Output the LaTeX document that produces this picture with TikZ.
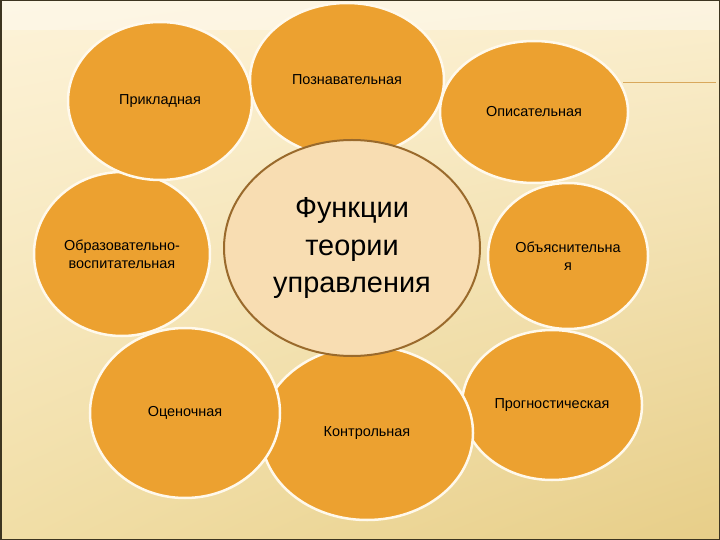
\documentclass[tikz,border=0pt]{standalone}
\usepackage{fontspec}
\setmainfont{Liberation Sans}
\usepackage{xcolor}
\usepackage{tikz}
\usetikzlibrary{shapes.geometric,shadings}

\definecolor{petalfill}{HTML}{ECA130}
\definecolor{petalrim}{HTML}{FFF9EC}
\definecolor{corefill}{HTML}{F8DDB2}
\definecolor{corerim}{HTML}{9A6A2C}
\definecolor{bgtopl}{HTML}{FDF3D9}
\definecolor{bgtopr}{HTML}{FBEFCF}
\definecolor{bgbotl}{HTML}{F1DEA6}
\definecolor{bgbotr}{HTML}{E7CE88}
\definecolor{framecol}{HTML}{3D3520}
\definecolor{accentline}{HTML}{D9A85C}

\begin{document}
\begin{tikzpicture}[x=1bp,y=-1bp,every node/.style={align=center},
    petal/.style={ellipse,fill=petalfill,draw=petalrim,line width=2.5bp,inner sep=0pt,
        font=\fontsize{14.5}{18}\selectfont},
    core/.style={ellipse,fill=corefill,draw=corerim,line width=2bp,inner sep=0pt,
        font=\fontsize{29}{38}\selectfont}]
    \useasboundingbox (0,0) rectangle (720,540);
    % background of the slide
    \shade[upper left=bgtopl,upper right=bgtopr,lower left=bgbotl,lower right=bgbotr] (0,0) rectangle (720,540);
    \fill[white,opacity=0.35] (0,0) rectangle (720,30);
    \coordinate (lineA) at (623,83);
    \coordinate (lineB) at (716,83);
    \draw[accentline,line width=1bp] (lineA) -- (lineB);
    \draw[framecol,line width=1.5bp] (0.75,0.75) rectangle (719.25,539.25);
    % outer functions
    \node[petal,minimum width=176bp,minimum height=164bp] (obraz) at (122,254) {Образовательно-\\воспитательная};
    \node[petal,minimum width=184bp,minimum height=158bp] (prikl) at (160,101) {Прикладная};
    \node[petal,minimum width=194bp,minimum height=154bp] (poznav) at (347,80) {Познавательная};
    \node[petal,minimum width=188bp,minimum height=142bp] (opis) at (534,112) {Описательная};
    \node[petal,minimum width=160bp,minimum height=146bp] (obyasn) at (568,256) {Объяснительна\\я};
    \node[petal,minimum width=180bp,minimum height=150bp] (prognoz) at (552,405) {Прогностическая};
    \node[petal,minimum width=212bp,minimum height=174bp] (kontr) at (367,433) {Контрольная};
    \node[petal,minimum width=190bp,minimum height=170bp] (ocen) at (185,413) {Оценочная};
    % centre
    \node[core,minimum width=256bp,minimum height=216bp] (funk) at (352,248) {Функции\\теории\\управления};
\end{tikzpicture}
\end{document}
